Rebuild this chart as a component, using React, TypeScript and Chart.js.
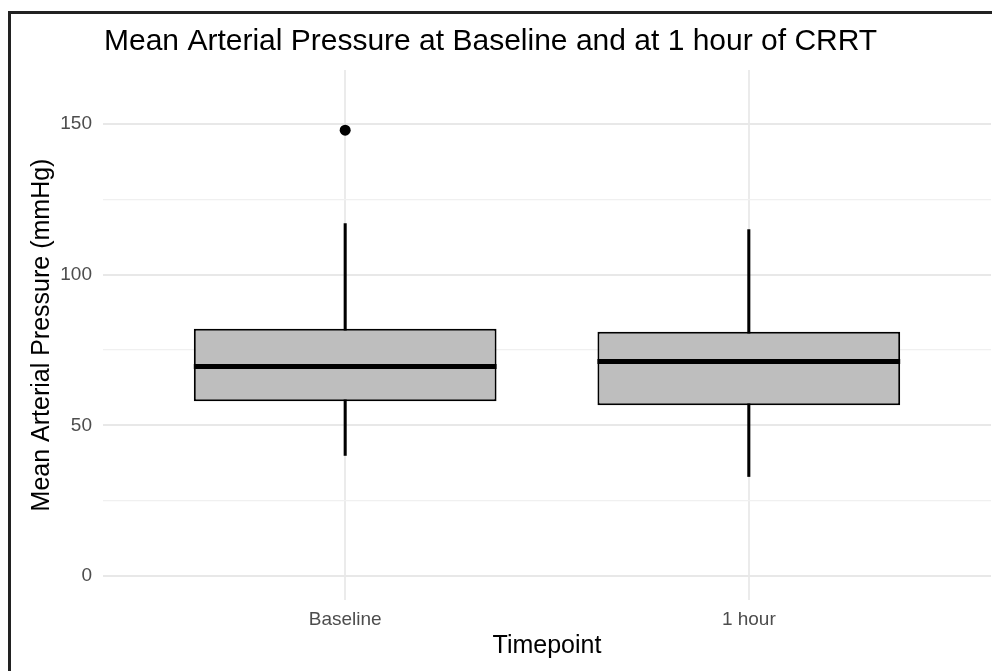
import React, { useEffect, useRef } from "react";
import { Chart, registerables } from "chart.js";

Chart.register(...registerables);

const FONT = "'Liberation Sans', Arial, Helvetica, sans-serif";

const titleText = "Mean Arterial Pressure at Baseline and at 1 hour of CRRT";
const xTitle = "Timepoint";
const yTitle = "Mean Arterial Pressure (mmHg)";

const categories = ["Baseline", "1 hour"];
const categoryPositions = [1, 2];
const whiskerLow = [40, 33];
const q1 = [58, 56.7];
const median = [69.5, 71.2];
const q3 = [82.1, 81.1];
const whiskerHigh = [117, 115];
const outlierCategory = [1];
const outlierValues = [148];
const yTickValues = [0, 25, 50, 75, 100, 125, 150];
const yMajorStep = 50;

const medianPlugin = {
  id: "medianLines",
  afterDatasetsDraw(chart: any) {
    const meta = chart.getDatasetMeta(1);
    const yScale = chart.scales.y;
    const ctx = chart.ctx;
    ctx.save();
    ctx.strokeStyle = "#000";
    ctx.lineWidth = 5;
    ctx.lineCap = "butt";
    meta.data.forEach((bar: any, i: number) => {
      const { x, width } = bar.getProps(["x", "width"], true);
      const py = yScale.getPixelForValue(median[i]);
      ctx.beginPath();
      ctx.moveTo(x - width / 2, py);
      ctx.lineTo(x + width / 2, py);
      ctx.stroke();
    });
    ctx.restore();
  },
};

const titlePlugin = {
  id: "leftTitle",
  afterDraw(chart: any) {
    const ctx = chart.ctx;
    ctx.save();
    ctx.font = `30px ${FONT}`;
    ctx.fillStyle = "#000";
    ctx.textAlign = "left";
    ctx.textBaseline = "alphabetic";
    ctx.fillText(titleText, chart.chartArea.left + 1, 36);
    ctx.restore();
  },
};

export default function App() {
  const canvasRef = useRef<HTMLCanvasElement | null>(null);

  useEffect(() => {
    if (!canvasRef.current) return;
    const chart = new Chart(canvasRef.current, {
      type: "bar",
      data: {
        datasets: [
          {
            type: "bar",
            label: "whiskers",
            data: categoryPositions.map((x, i) => ({ x, y: [whiskerLow[i], whiskerHigh[i]] })),
            backgroundColor: "#000",
            barThickness: 2.4,
            grouped: false,
            order: 3,
          } as any,
          {
            type: "bar",
            label: "box",
            data: categoryPositions.map((x, i) => ({ x, y: [q1[i], q3[i]] })),
            backgroundColor: "#bebebe",
            borderColor: "#000",
            borderWidth: 2,
            borderSkipped: false,
            barPercentage: 0.75,
            categoryPercentage: 1,
            grouped: false,
            order: 2,
          } as any,
          {
            type: "scatter",
            label: "outliers",
            data: outlierCategory.map((c, i) => ({ x: c, y: outlierValues[i] })),
            pointRadius: 5.5,
            pointHoverRadius: 5.5,
            backgroundColor: "#000",
            borderWidth: 0,
            order: 1,
          } as any,
        ],
      },
      options: {
        responsive: false,
        animation: false,
        devicePixelRatio: 1,
        layout: { autoPadding: false, padding: { top: 56, right: 1, left: 0, bottom: 0 } },
        plugins: {
          legend: { display: false },
          tooltip: { enabled: false },
          title: { display: false },
        },
        scales: {
          x: {
            type: "linear",
            min: 0.4,
            max: 2.6,
            offset: false,
            afterBuildTicks: (s: any) => {
              s.ticks = categoryPositions.map((v) => ({ value: v }));
            },
            ticks: {
              callback: (_v: any, i: number) => categories[i] ?? "",
              font: { size: 19, family: FONT },
              color: "#4d4d4d",
              padding: 8,
              maxRotation: 0,
              autoSkip: false,
            },
            grid: { color: "#ebebeb", lineWidth: 2, drawTicks: false, offset: false },
            border: { display: false },
            title: {
              display: true,
              text: xTitle,
              font: { size: 25, family: FONT },
              color: "#000",
              padding: { top: 0, bottom: 10 },
            },
            afterFit: (s: any) => {
              s.height = 71;
            },
          },
          y: {
            type: "linear",
            min: -8,
            max: 168,
            afterBuildTicks: (s: any) => {
              s.ticks = yTickValues.map((v) => ({ value: v }));
            },
            ticks: {
              callback: (v: any) => (Number(v) % yMajorStep === 0 ? String(v) : ""),
              font: { size: 19, family: FONT },
              color: "#4d4d4d",
              padding: 11,
            },
            grid: {
              color: (c: any) =>
                c.tick && c.tick.value % yMajorStep === 0 ? "#e8e8e8" : "#f0f0f0",
              lineWidth: (c: any) => (c.tick && c.tick.value % yMajorStep === 0 ? 2 : 1.3),
              drawTicks: false,
            },
            border: { display: false },
            title: {
              display: true,
              text: yTitle,
              font: { size: 25, family: FONT },
              color: "#000",
              padding: { top: 16, bottom: 0 },
            },
            afterFit: (s: any) => {
              s.width = 92;
            },
          },
        },
      } as any,
      plugins: [medianPlugin, titlePlugin],
    });
    return () => chart.destroy();
  }, []);

  return (
    <div
      style={{
        position: "absolute",
        left: 8,
        top: 11,
        width: 984,
        height: 660,
        borderTop: "3px solid #222",
        borderLeft: "3px solid #222",
        boxSizing: "border-box",
        background: "#fff",
      }}
    >
      <canvas ref={canvasRef} width={981} height={657} style={{ display: "block" }} />
    </div>
  );
}
